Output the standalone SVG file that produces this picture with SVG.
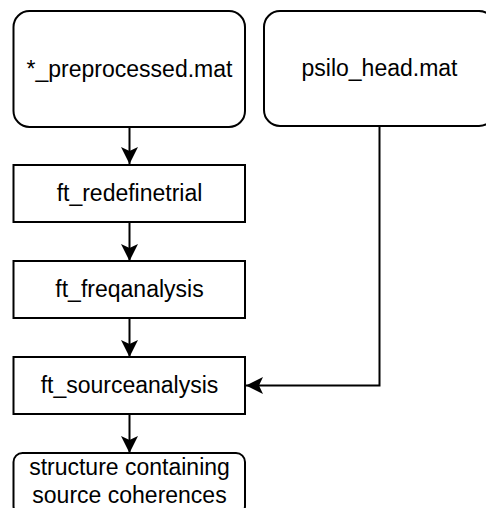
<svg xmlns="http://www.w3.org/2000/svg" width="486" height="508" viewBox="0 0 486 508">
  <style>
    .box { fill: #ffffff; stroke: #000000; stroke-width: 2; }
    .lbl { font-family: "Liberation Sans", Arial, sans-serif; font-size: 23px; fill: #000000; text-anchor: middle; }
    .edge { fill: none; stroke: #000000; stroke-width: 2; }
  </style>
  <defs>
    <marker id="arrow" viewBox="0 0 18 18" refX="17" refY="9" markerWidth="18" markerHeight="18" markerUnits="userSpaceOnUse" orient="auto">
      <path d="M17,9 L0,0.5 L4,9 L0,17.5 Z" fill="#000000"/>
    </marker>
  </defs>
  <rect x="0" y="0" width="486" height="508" fill="#ffffff"/>

  <g id="connectors">
    <path class="edge" d="M129.5,127 V164" marker-end="url(#arrow)"/>
    <path class="edge" d="M129.5,222 V261" marker-end="url(#arrow)"/>
    <path class="edge" d="M129.5,318 V357" marker-end="url(#arrow)"/>
    <path class="edge" d="M129.5,414 V453" marker-end="url(#arrow)"/>
    <path class="edge" d="M379.5,126 V385.5 H246" marker-end="url(#arrow)"/>
  </g>

  <g id="preprocessed">
    <rect class="box" x="13.5" y="11" width="231.5" height="116" rx="16" ry="16"/>
    <text class="lbl" x="129.5" y="77">*_preprocessed.mat</text>
  </g>

  <g id="psilo-head">
    <rect class="box" x="264" y="11" width="231" height="115" rx="16" ry="16"/>
    <text class="lbl" x="379.5" y="76">psilo_head.mat</text>
  </g>

  <g id="redefinetrial">
    <rect class="box" x="13.5" y="165" width="231.5" height="57"/>
    <text class="lbl" x="129.5" y="201">ft_redefinetrial</text>
  </g>

  <g id="freqanalysis">
    <rect class="box" x="13.5" y="261" width="231.5" height="57"/>
    <text class="lbl" x="129.5" y="297">ft_freqanalysis</text>
  </g>

  <g id="sourceanalysis">
    <rect class="box" x="13.5" y="357" width="231.5" height="57"/>
    <text class="lbl" x="129.5" y="393">ft_sourceanalysis</text>
  </g>

  <g id="source-coherences">
    <rect class="box" x="13.5" y="453" width="231.5" height="62" rx="9" ry="9"/>
    <text class="lbl" x="129.5" y="475">structure containing</text>
    <text class="lbl" x="129.5" y="503">source coherences</text>
  </g>
</svg>
